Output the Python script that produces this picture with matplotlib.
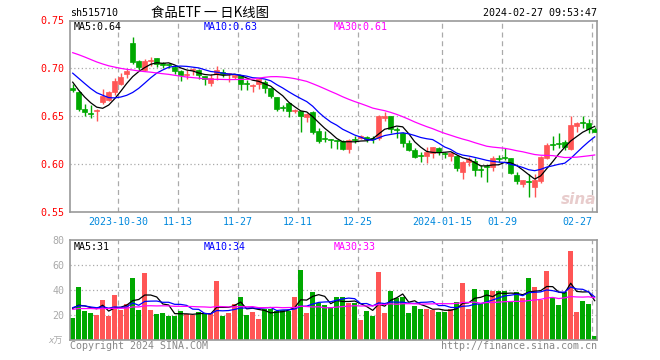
import matplotlib
matplotlib.use("Agg")
import matplotlib.pyplot as plt
import numpy as np
import pandas as pd

# daily bars 2023-10-18 .. 2024-02-27
opens = [0.679, 0.675, 0.658, 0.6535, 0.655, 0.665, 0.667, 0.675, 0.684, 0.694,
         0.727, 0.708, 0.698, 0.7074, 0.711, 0.705, 0.704, 0.701, 0.697, 0.693,
         0.698, 0.698, 0.692, 0.685, 0.694, 0.696, 0.6938, 0.691, 0.693, 0.6848,
         0.682, 0.684, 0.686, 0.679, 0.670, 0.6597, 0.6635, 0.6555, 0.655, 0.649,
         0.654, 0.6346, 0.6273, 0.6256, 0.6252, 0.6238, 0.6162, 0.6263, 0.627, 0.6287,
         0.6273, 0.627, 0.6482, 0.6503, 0.636, 0.6322, 0.6224, 0.6148, 0.6092, 0.6085,
         0.612, 0.6172, 0.611, 0.6085, 0.6085, 0.5921, 0.6022, 0.6036, 0.5942, 0.5977,
         0.5967, 0.6064, 0.6075, 0.6064, 0.5887, 0.5793, 0.582, 0.5765, 0.5827, 0.6061,
         0.621, 0.622, 0.6235, 0.6155, 0.6402, 0.6437, 0.6426, 0.6364]
highs = [0.684, 0.676, 0.663, 0.662, 0.658, 0.678, 0.676, 0.690, 0.695, 0.699,
         0.733, 0.709, 0.710, 0.712, 0.711, 0.707, 0.706, 0.704, 0.698, 0.698,
         0.700, 0.699, 0.6925, 0.694, 0.7025, 0.699, 0.695, 0.694, 0.6935, 0.688,
         0.6834, 0.689, 0.688, 0.680, 0.6705, 0.662, 0.664, 0.658, 0.6552, 0.653,
         0.655, 0.6374, 0.635, 0.6259, 0.6256, 0.6252, 0.6266, 0.6294, 0.6301, 0.6294,
         0.6294, 0.651, 0.6548, 0.6506, 0.6391, 0.6339, 0.6252, 0.6165, 0.613, 0.6183,
         0.6183, 0.6183, 0.613, 0.612, 0.6096, 0.6036, 0.6078, 0.6061, 0.5991, 0.5991,
         0.6085, 0.6096, 0.6165, 0.6068, 0.5921, 0.5838, 0.5897, 0.5897, 0.6085, 0.6217,
         0.6294, 0.6322, 0.6252, 0.6503, 0.6437, 0.6503, 0.6468, 0.6385]
lows = [0.675, 0.655, 0.650, 0.648, 0.645, 0.663, 0.666, 0.672, 0.683, 0.690,
        0.705, 0.697, 0.697, 0.703, 0.701, 0.700, 0.700, 0.694, 0.687, 0.689,
        0.6935, 0.689, 0.683, 0.682, 0.688, 0.691, 0.686, 0.689, 0.6775, 0.6775,
        0.6757, 0.678, 0.674, 0.6687, 0.656, 0.655, 0.6496, 0.653, 0.634, 0.6444,
        0.6315, 0.6224, 0.623, 0.6165, 0.6162, 0.6148, 0.612, 0.6217, 0.6259, 0.6231,
        0.6217, 0.6252, 0.6454, 0.6329, 0.627, 0.6176, 0.6141, 0.6061, 0.6026, 0.6009,
        0.6061, 0.6096, 0.6061, 0.6033, 0.5932, 0.5848, 0.5981, 0.5876, 0.5862, 0.5817,
        0.5932, 0.6026, 0.6043, 0.5897, 0.5793, 0.5765, 0.5661, 0.5661, 0.580, 0.605,
        0.6148, 0.6165, 0.6148, 0.6148, 0.6339, 0.6374, 0.6322, 0.6333]
closes = [0.677, 0.658, 0.654, 0.6525, 0.656, 0.671, 0.675, 0.687, 0.691, 0.697,
          0.707, 0.701, 0.708, 0.7084, 0.705, 0.704, 0.7035, 0.697, 0.693, 0.694,
          0.699, 0.693, 0.689, 0.690, 0.698, 0.694, 0.6945, 0.693, 0.684, 0.6841,
          0.6827, 0.6886, 0.680, 0.6715, 0.658, 0.659, 0.655, 0.6562, 0.650, 0.6524,
          0.634, 0.6245, 0.6263, 0.6249, 0.6245, 0.6162, 0.6252, 0.6256, 0.6291, 0.6259,
          0.6266, 0.6503, 0.6503, 0.6364, 0.6353, 0.6224, 0.6148, 0.6078, 0.6085, 0.6127,
          0.6176, 0.613, 0.6103, 0.6113, 0.5963, 0.6019, 0.605, 0.5939, 0.5935, 0.597,
          0.6064, 0.6057, 0.6068, 0.5911, 0.5827, 0.5834, 0.5813, 0.5834, 0.6078, 0.62,
          0.6203, 0.6214, 0.6183, 0.6409, 0.643, 0.643, 0.6367, 0.6336]
volumes = [17.9, 42.7, 23.2, 21.3, 20.0, 32.0, 19.2, 36.0, 23.8, 28.5,
           49.9, 23.8, 53.9, 23.8, 20.8, 21.9, 19.5, 19.5, 23.2, 20.5,
           20.0, 22.1, 20.5, 21.3, 47.2, 19.5, 21.9, 28.5, 34.7, 20.0,
           22.1, 16.8, 24.7, 24.7, 23.2, 23.8, 23.2, 34.7, 56.0, 21.9,
           38.7, 30.0, 28.0, 26.7, 34.7, 34.7, 29.9, 29.9, 16.0, 23.2,
           19.5, 54.7, 21.9, 39.5, 33.3, 34.7, 21.9, 27.5, 24.8, 24.8,
           24.0, 22.7, 22.7, 24.8, 30.7, 45.9, 24.8, 40.8, 28.5, 40.0,
           39.2, 39.2, 39.2, 30.1, 38.7, 33.9, 49.9, 42.7, 32.0, 55.5,
           33.3, 28.0, 38.7, 71.5, 22.7, 31.2, 28.8, 3.0]

# sessions before the window, only needed for the moving averages
prior_close = [0.722, 0.726, 0.730, 0.733, 0.735, 0.732, 0.728, 0.730, 0.727,
               0.729, 0.731, 0.728, 0.726, 0.730, 0.727, 0.724, 0.726, 0.722, 0.719, 0.717,
               0.712, 0.708, 0.705, 0.700, 0.697, 0.700, 0.690, 0.682, 0.679]
prior_vol = [22, 25, 19, 28, 24, 21, 30, 23, 26, 20, 24, 27, 22, 25, 19, 23, 28, 24, 22, 24,
             28, 24, 30, 26, 24.5, 30, 26, 28, 24.6]

tick_pos = [8, 18, 28, 38, 48, 62, 72, 87]
tick_labels = ["2023-10-30", "11-13", "11-27", "12-11", "12-25", "2024-01-15", "01-29", "02-27"]

RED = "#ff5555"
GREEN = "#00a800"
FRAME = "#999999"
GRID = "#aaaaaa"
DATECOL = "#0088dd"
MONO = "DejaVu Sans Mono"
FS = 7.2

n = len(closes)
xc = np.arange(n) + 0.45
up = np.array(closes) >= np.array(opens)
cols = [RED if u else GREEN for u in up]

all_c = pd.Series(prior_close + closes)
all_v = pd.Series(prior_vol + volumes)
ma_p = {k: all_c.rolling(k).mean().values[-n:] for k in (5, 10, 30)}
ma_v = {k: all_v.rolling(k).mean().values[-n:] for k in (5, 10, 30)}
ma_cols = {5: "black", 10: "#0000ff", 30: "#ff00ff"}

W, H = 660, 360
fig = plt.figure(figsize=(W / 100, H / 100), dpi=100)
ax1 = fig.add_axes([70 / W, 1 - 212 / H, 527 / W, 191.5 / H])
ax2 = fig.add_axes([70 / W, 1 - 340 / H, 527 / W, 100 / H])

xmax = 527 / 6
for ax in (ax1, ax2):
    ax.set_xlim(0, xmax)
    for s in ax.spines.values():
        s.set_color(FRAME)
        s.set_linewidth(1.2)
    for p in tick_pos:
        ax.axvline(p, color=GRID, lw=0.9, ls=(0, (4, 3)), zorder=0)
    ax.tick_params(length=0)

# price panel
ax1.set_ylim(0.55, 0.75)
for g in (0.60, 0.65, 0.70):
    ax1.axhline(g, color=GRID, lw=0.9, ls=(0, (1, 2)), zorder=0)
body_b = np.minimum(opens, closes)
body_h = np.maximum(np.abs(np.array(closes) - np.array(opens)), 0.0011)
ax1.vlines(xc, lows, highs, colors=cols, lw=1.0, zorder=2)
ax1.bar(xc, body_h, bottom=body_b, width=0.8, color=cols, edgecolor=cols, lw=0.5, zorder=3)
for k in (5, 10, 30):
    ax1.plot(xc, ma_p[k], color=ma_cols[k], lw=0.9, zorder=4)

ax1.set_yticks([0.55, 0.60, 0.65, 0.70, 0.75])
ax1.set_yticklabels(["0.55", "0.60", "0.65", "0.70", "0.75"], color="red",
                    fontfamily=MONO, fontsize=FS)
ax1.tick_params(axis="y", pad=4)
ax1.set_xticks(tick_pos)
ax1.set_xticklabels(tick_labels, color=DATECOL, fontfamily=MONO, fontsize=FS)
ax1.tick_params(axis="x", pad=3.5)
ax1.get_xticklabels()[-1].set_ha("right")
ax1.text(xmax - 0.1, 0.5555, "sina", color="#e8cccc", fontsize=11, fontweight="bold",
         style="italic", ha="right", va="bottom", zorder=1)

# volume panel
ax2.set_ylim(0, 80)
for g in (20, 40, 60):
    ax2.axhline(g, color=GRID, lw=0.9, ls=(0, (1, 2)), zorder=0)
ax2.bar(xc, volumes, width=0.8, color=cols, lw=0, zorder=2)
for k in (5, 10, 30):
    ax2.plot(xc, ma_v[k], color=ma_cols[k], lw=0.9, zorder=4)
ax2.set_xticks([])
ax2.set_yticks([20, 40, 60, 80])
ax2.set_yticklabels(["20", "40", "60", "80"], color="#aaaaaa", fontfamily=MONO, fontsize=FS)
ax2.tick_params(axis="y", pad=4)

def ftext(x, y, s, **kw):
    kw.setdefault("fontfamily", MONO)
    kw.setdefault("fontsize", FS)
    kw.setdefault("va", "center")
    fig.text(x / W, 1 - y / H, s, **kw)

ftext(70, 13, "sh515710", color="black")
ftext(151, 13, "食品ETF 一 日K线图", color="black", fontfamily=["Noto Sans CJK SC", "DejaVu Sans"],
      fontsize=9.6)
ftext(597, 13, "2024-02-27 09:53:47", color="black", ha="right")

ftext(74, 27, "MA5:0.64", color="black")
ftext(204, 27, "MA10:0.63", color="#0000ff")
ftext(334, 27, "MA30:0.61", color="#ff00ff")
ftext(74, 247, "MA5:31", color="black")
ftext(204, 247, "MA10:34", color="#0000ff")
ftext(334, 247, "MA30:33", color="#ff00ff")

ftext(63, 341, "x万", color="#aaaaaa", ha="right", style="italic",
      fontfamily=["DejaVu Sans", "Noto Sans CJK SC"], fontsize=6.5)
ftext(70, 346, "Copyright 2024 SINA.COM", color="#888888")
ftext(597, 346, "http://finance.sina.com.cn", color="#888888", ha="right")

fig.savefig("out.png", dpi=100)
